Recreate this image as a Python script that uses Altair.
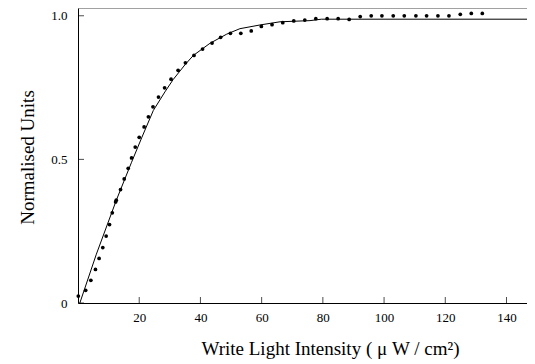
import altair as alt
import pandas as pd

# measured points
pt_x = [0.1, 2.5, 4.2, 5.7, 6.9, 8.1, 9.2, 10.3, 11.2, 12.3, 12.5, 13.9, 15.1, 16.4,
        17.5, 18.7, 20.0, 21.6, 23.0, 24.5, 26.3, 28.3, 30.4, 32.7, 35.1, 37.9, 40.7,
        43.8, 46.6, 49.8, 53.2, 56.6, 59.9, 63.4, 66.9, 70.5, 74.1, 77.7, 81.4, 85.0,
        88.6, 92.2, 95.8, 99.3, 103.0, 106.6, 110.4, 113.9, 117.6, 121.2, 124.9, 128.5, 132.1]
pt_y = [0.024, 0.044, 0.079, 0.117, 0.155, 0.193, 0.233, 0.273, 0.314, 0.352, 0.358,
        0.395, 0.432, 0.469, 0.505, 0.543, 0.577, 0.613, 0.648, 0.683, 0.717, 0.749,
        0.779, 0.810, 0.836, 0.862, 0.884, 0.905, 0.925, 0.939, 0.939, 0.947, 0.963,
        0.969, 0.976, 0.982, 0.985, 0.990, 0.990, 0.990, 0.987, 0.997, 1.0, 1.0, 1.0,
        1.0, 1.0, 1.0, 1.0, 1.0, 1.005, 1.008, 1.008]

# fitted curve
fit_x = [0.6, 6.0, 12.6, 17.5, 20.8, 24.6, 28.4, 31.1, 35.0, 37.7, 43.1, 48.6, 52.9,
         59.5, 66.0, 75.8, 79.5, 146.7]
fit_y = [0.0, 0.17, 0.36, 0.49, 0.575, 0.67, 0.735, 0.778, 0.830, 0.862, 0.904, 0.936,
         0.955, 0.968, 0.979, 0.983, 0.988, 0.988]

x_ticks = [20, 40, 60, 80, 100, 120, 140]
y_ticks = [0, 0.5, 1.0]

pts = pd.DataFrame({"x": pt_x, "y": pt_y})
fit = pd.DataFrame({"x": fit_x, "y": fit_y})
xt = pd.DataFrame({"v": x_ticks})
yt = pd.DataFrame({"v": y_ticks})

FONT = "Liberation Serif"
XTITLE = "Write Light Intensity ( \u03bc W / cm\u00b2)"
YTITLE = "Normalised Units"
X_MAX = 146.7
Y_MAX = 1.027
xs = alt.Scale(domain=[0, X_MAX], nice=False, zero=False)
ys = alt.Scale(domain=[0, Y_MAX], nice=False)

x_axis = alt.Axis(
    values=x_ticks, title=XTITLE,
    ticks=False, tickSize=0, grid=False, labelPadding=8, labelFontSize=13,
    labelFont=FONT, labelColor="black", titleFont=FONT, titleFontSize=19,
    titleFontWeight="normal", titleColor="black", titleX=252, titleY=51,
    titleBaseline="alphabetic", domainColor="black", labelFlush=False,
)
y_axis = alt.Axis(
    values=y_ticks, title=YTITLE,
    labelExpr="datum.value == 0 ? '0' : format(datum.value, '.1f')",
    ticks=False, tickSize=0, grid=False, labelPadding=11, labelFontSize=13,
    labelFont=FONT, labelColor="black", titleFont=FONT, titleFontSize=19,
    titleFontWeight="normal", titleColor="black", titleAngle=270,
    titleX=-51, titleY=149, titleBaseline="middle", domainColor="black",
    labelFlush=False,
)

points = alt.Chart(pts).mark_circle(size=14, color="black", opacity=1).encode(
    x=alt.X("x:Q", scale=xs, axis=x_axis, title=XTITLE),
    y=alt.Y("y:Q", scale=ys, axis=y_axis, title=YTITLE),
)
line = alt.Chart(fit).mark_line(color="black", strokeWidth=1).encode(
    x=alt.X("x:Q", scale=xs, title=XTITLE),
    y=alt.Y("y:Q", scale=ys, title=YTITLE),
)
xticks = alt.Chart(xt).mark_tick(orient="vertical", size=6, thickness=1,
                                 color="black", yOffset=-3).encode(
    x=alt.X("v:Q", scale=xs, title=XTITLE),
    y=alt.datum(0),
)
yticks = alt.Chart(yt).mark_tick(orient="horizontal", size=6, thickness=1,
                                 color="black", xOffset=3).encode(
    x=alt.datum(0),
    y=alt.Y("v:Q", scale=ys, title=YTITLE),
)
# top frame line at the top of the y domain
top = alt.Chart(pd.DataFrame({"t": [Y_MAX]})).mark_rule(
    color="#666", strokeWidth=1.2).encode(
    y=alt.Y("t:Q", scale=ys, title=YTITLE),
)

chart = alt.layer(points, line, xticks, yticks, top).properties(
    width=449, height=295,
    autosize=alt.AutoSizeParams(type="none"),
    padding={"left": 70, "top": 0, "right": 0, "bottom": 61},
).configure_view(strokeWidth=0).configure(background="white")

chart.save("out.html", embed_options={"renderer": "svg", "actions": False})
